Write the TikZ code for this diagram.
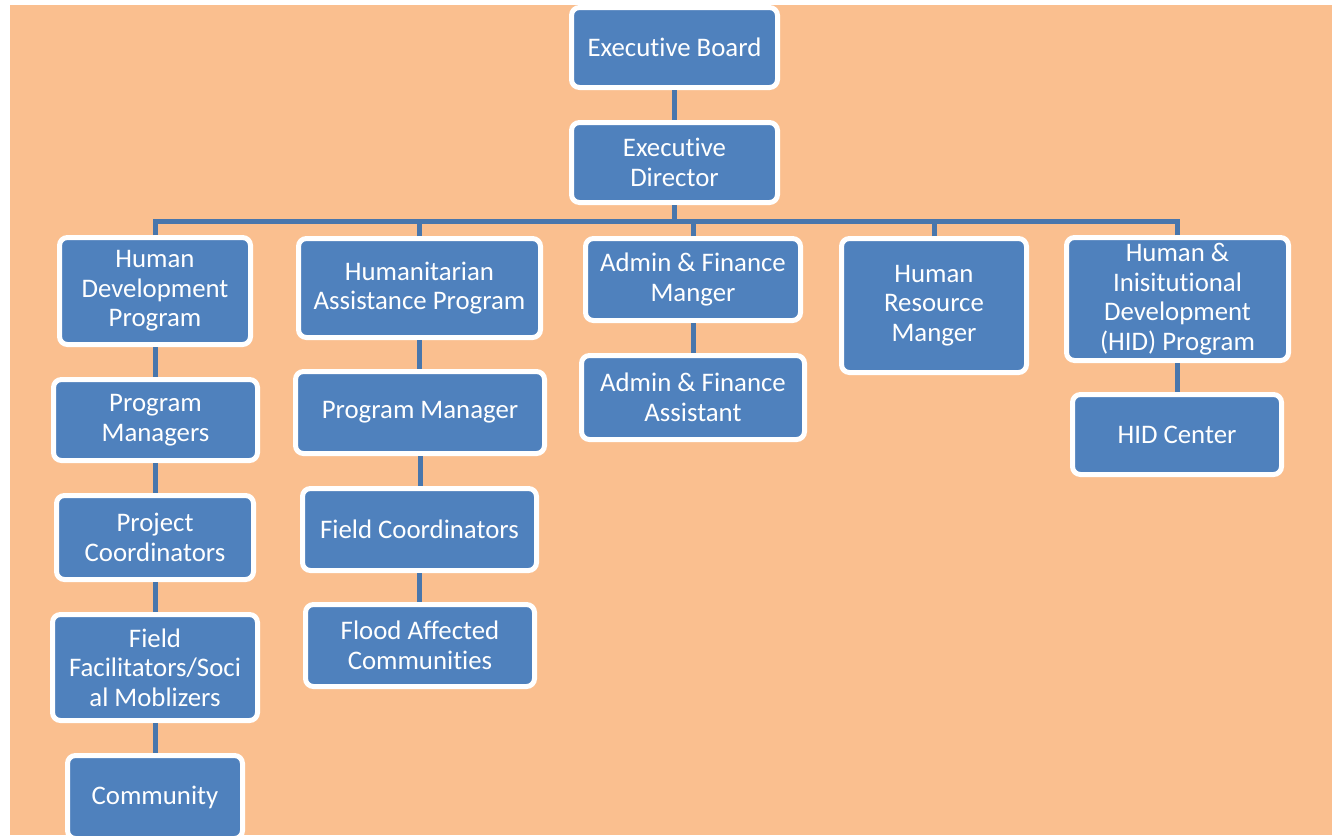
\documentclass[tikz,border=0pt]{standalone}
\usepackage{fontspec}
\setmainfont{Carlito}[Ligatures=NoCommon]
\usepackage{tikz}
\definecolor{peach}{RGB}{250,191,143}
\definecolor{boxblue}{RGB}{79,129,189}
\definecolor{linkblue}{RGB}{72,118,172}

\begin{document}
\begin{tikzpicture}[x=0.5pt, y=-0.5pt]
    \tikzstyle{post} = [rectangle, rounded corners=4pt, draw=white, line width=2.5pt, fill=boxblue, text=white, align=center, inner sep=1pt, font=\fontsize{13.4}{14.75}\selectfont]
    \tikzstyle{link} = [linkblue, line width=2.5pt]
    \useasboundingbox (0,0) rectangle (1332,835);
    \clip (0,0) rectangle (1332,835);
    \fill[peach] (10,5) rectangle (1332,835);
    % top
    \node[post, minimum width=103pt, minimum height=40pt] (board) at (674.5,47.5) {Executive Board};
    \node[post, minimum width=103pt, minimum height=40pt] (director) at (674.5,162.5) {Executive\\Director};
    % programs and managers
    \node[post, minimum width=95.5pt, minimum height=53.5pt] (hdp) at (155,291) {Human\\Development\\Program};
    \node[post, minimum width=121pt, minimum height=49.5pt] (hap) at (419.5,288) {Humanitarian\\Assistance Program};
    \node[post, minimum width=107.5pt, minimum height=41pt] (afm) at (693,279.5) {Admin \& Finance\\Manger};
    \node[post, minimum width=92.5pt, minimum height=67pt] (hrm) at (934,305.5) {Human\\Resource\\Manger};
    \node[post, minimum width=111pt, minimum height=61.5pt] (hid) at (1177.5,299) {Human \&\\Inisitutional\\Development\\(HID) Program};
    % human development column
    \node[post, minimum width=102pt, minimum height=40.5pt] (pmgrs) at (155.5,420) {Program\\Managers};
    \node[post, minimum width=98.5pt, minimum height=42pt] (pcoord) at (155,537.5) {Project\\Coordinators};
    \node[post, minimum width=102.5pt, minimum height=53pt] (ffac) at (155,667.5) {Field\\Facilitators/Soci\\al Moblizers};
    \node[post, minimum width=87.5pt, minimum height=41.5pt] (comm) at (155,797) {Community};
    % humanitarian column
    \node[post, minimum width=124.5pt, minimum height=41pt] (pmgr) at (420,412.5) {Program Manager};
    \node[post, minimum width=117pt, minimum height=41pt] (fcoord) at (419.5,529.5) {Field Coordinators};
    \node[post, minimum width=114.5pt, minimum height=41pt] (flood) at (420,645.5) {Flood Affected\\Communities};
    % admin and HID
    \node[post, minimum width=111.5pt, minimum height=42pt] (afa) at (693,397.5) {Admin \& Finance\\Assistant};
    \node[post, minimum width=104.5pt, minimum height=40pt] (hidc) at (1177,434.5) {HID Center};
    % connectors
    \coordinate (bus) at (674.5,221);
    \draw[link] (board) -- (director);
    \draw[link] (director) -- (bus);
    \foreach \n in {hdp,hap,afm,hrm,hid} {
        \draw[link] (\n.north) |- (bus);
    }
    \foreach \a/\b in {hdp/pmgrs, pmgrs/pcoord, pcoord/ffac, ffac/comm, hap/pmgr, pmgr/fcoord, fcoord/flood, afm/afa, hid/hidc} {
        \draw[link] (\a.south) -- (\a.south |- \b.north);
    }
\end{tikzpicture}
\end{document}
